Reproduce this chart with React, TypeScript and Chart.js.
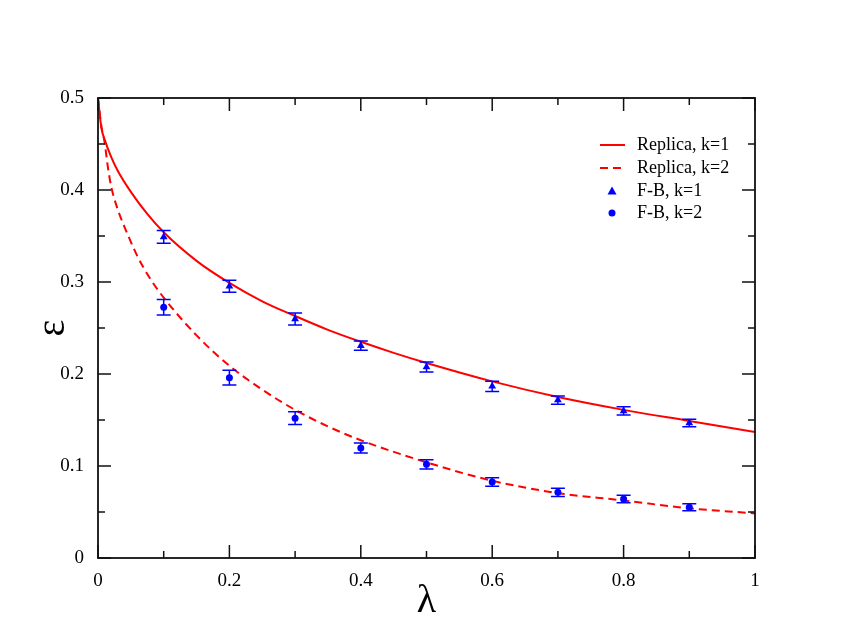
import React, { useEffect, useRef } from 'react';
import { Chart, registerables } from 'chart.js';

Chart.register(...registerables);

// Replica curves
const replicaK1Lambda = [0, 0.005, 0.01, 0.02, 0.03, 0.05, 0.075, 0.1, 0.15, 0.2, 0.25, 0.3, 0.35, 0.4, 0.45, 0.5, 0.6, 0.7, 0.8, 0.9, 1.0];
const replicaK1 = [0.5, 0.468, 0.455, 0.436, 0.421, 0.398, 0.374, 0.354, 0.323, 0.299, 0.279, 0.263, 0.248, 0.235, 0.223, 0.212, 0.192, 0.175, 0.161, 0.149, 0.137];

const replicaK2Lambda = [0, 0.005, 0.01, 0.015, 0.02, 0.03, 0.045, 0.06, 0.08, 0.1, 0.15, 0.2, 0.25, 0.3, 0.35, 0.4, 0.5, 0.6, 0.7, 0.8, 0.9, 1.0];
const replicaK2 = [0.5, 0.47, 0.452, 0.425, 0.404, 0.379, 0.352, 0.328, 0.303, 0.283, 0.242, 0.209, 0.183, 0.161, 0.143, 0.128, 0.104, 0.084, 0.0705, 0.0625, 0.054, 0.0485];

// F-B data points with error bars
const fbLambda = [0.1, 0.2, 0.3, 0.4, 0.5, 0.6, 0.7, 0.8, 0.9];
const fbK1 = [0.349, 0.2953, 0.2598, 0.2308, 0.2076, 0.1866, 0.1717, 0.1598, 0.1467];
const fbK1Err = [0.007, 0.0065, 0.0065, 0.005, 0.0055, 0.0055, 0.0045, 0.0045, 0.004];
const fbK2 = [0.2725, 0.196, 0.152, 0.1196, 0.1018, 0.0826, 0.0714, 0.0641, 0.0551];
const fbK2Err = [0.0085, 0.008, 0.007, 0.0055, 0.005, 0.0045, 0.0045, 0.004, 0.0038];

const xTicks = [0, 0.2, 0.4, 0.6, 0.8, 1];
const yTicks = [0, 0.1, 0.2, 0.3, 0.4, 0.5];
const legendLabels = ['Replica, k=1', 'Replica, k=2', 'F-B, k=1', 'F-B, k=2'];

const RED = '#ff0000';
const BLUE = '#0000ff';
const SERIF = '"Liberation Serif", "Times New Roman", serif';

const errors: Record<string, number[]> = { fb1: fbK1Err, fb2: fbK2Err };

const framePlugin = {
  id: 'frameTicks',
  afterDatasetsDraw(chart: any) {
    const { ctx, chartArea: a, scales } = chart;
    const xs = scales.x;
    const ys = scales.y;
    ctx.save();
    // error bars
    chart.data.datasets.forEach((ds: any) => {
      const errs = errors[ds.key];
      if (!errs) return;
      ctx.strokeStyle = BLUE;
      ctx.lineWidth = 1.5;
      ds.data.forEach((p: any, i: number) => {
        const px = xs.getPixelForValue(p.x);
        const top = ys.getPixelForValue(p.y + errs[i]);
        const bot = ys.getPixelForValue(p.y - errs[i]);
        ctx.beginPath();
        ctx.moveTo(px, top);
        ctx.lineTo(px, bot);
        ctx.moveTo(px - 7, top);
        ctx.lineTo(px + 7, top);
        ctx.moveTo(px - 7, bot);
        ctx.lineTo(px + 7, bot);
        ctx.stroke();
      });
    });
    // frame
    ctx.strokeStyle = '#111';
    ctx.lineWidth = 1.8;
    ctx.strokeRect(a.left, a.top, a.right - a.left, a.bottom - a.top);
    ctx.lineWidth = 1.5;
    // x ticks (major 0.2, minor 0.1)
    for (let i = 0; i <= 10; i++) {
      const v = i / 10;
      const len = i % 2 === 0 ? 13 : 7;
      const px = xs.getPixelForValue(v);
      ctx.beginPath();
      ctx.moveTo(px, a.bottom);
      ctx.lineTo(px, a.bottom - len);
      ctx.moveTo(px, a.top);
      ctx.lineTo(px, a.top + len);
      ctx.stroke();
    }
    // y ticks (major 0.1, minor 0.05)
    for (let i = 0; i <= 10; i++) {
      const v = i * 0.05;
      const len = i % 2 === 0 ? 13 : 7;
      const py = ys.getPixelForValue(v);
      ctx.beginPath();
      ctx.moveTo(a.left, py);
      ctx.lineTo(a.left + len, py);
      ctx.moveTo(a.right, py);
      ctx.lineTo(a.right - len, py);
      ctx.stroke();
    }
    // legend
    const lx = 600;
    const tx = 637;
    const rows = [145, 168, 191, 213];
    ctx.font = `18px ${SERIF}`;
    ctx.fillStyle = '#000';
    ctx.textBaseline = 'middle';
    ctx.textAlign = 'left';
    legendLabels.forEach((lab, i) => ctx.fillText(lab, tx, rows[i]));
    ctx.strokeStyle = RED;
    ctx.lineWidth = 2;
    ctx.beginPath();
    ctx.moveTo(lx, rows[0]);
    ctx.lineTo(lx + 25, rows[0]);
    ctx.stroke();
    ctx.setLineDash([8, 5]);
    ctx.beginPath();
    ctx.moveTo(lx, rows[1]);
    ctx.lineTo(lx + 25, rows[1]);
    ctx.stroke();
    ctx.setLineDash([]);
    ctx.fillStyle = BLUE;
    ctx.beginPath();
    ctx.moveTo(612, rows[2] - 4.5);
    ctx.lineTo(616.5, rows[2] + 3.5);
    ctx.lineTo(607.5, rows[2] + 3.5);
    ctx.closePath();
    ctx.fill();
    ctx.beginPath();
    ctx.arc(612, rows[3], 3.5, 0, Math.PI * 2);
    ctx.fill();
    ctx.restore();
  },
};

export default function App() {
  const ref = useRef<HTMLCanvasElement | null>(null);
  useEffect(() => {
    if (!ref.current) return;
    const chart = new Chart(ref.current, {
      type: 'scatter',
      data: {
        datasets: [
          {
            key: 'fb1',
            label: legendLabels[2],
            data: fbLambda.map((x, i) => ({ x, y: fbK1[i] })),
            pointStyle: 'triangle',
            pointRadius: 4.5,
            backgroundColor: BLUE,
            borderColor: BLUE,
            borderWidth: 0,
            showLine: false,
            order: 1,
          },
          {
            key: 'fb2',
            label: legendLabels[3],
            data: fbLambda.map((x, i) => ({ x, y: fbK2[i] })),
            pointStyle: 'circle',
            pointRadius: 3.5,
            backgroundColor: BLUE,
            borderColor: BLUE,
            borderWidth: 0,
            showLine: false,
            order: 1,
          },
          {
            label: legendLabels[0],
            data: replicaK1Lambda.map((x, i) => ({ x, y: replicaK1[i] })),
            showLine: true,
            borderColor: RED,
            borderWidth: 2,
            pointRadius: 0,
            cubicInterpolationMode: 'monotone',
            order: 2,
          },
          {
            label: legendLabels[1],
            data: replicaK2Lambda.map((x, i) => ({ x, y: replicaK2[i] })),
            showLine: true,
            borderColor: RED,
            borderWidth: 2,
            borderDash: [8, 5],
            pointRadius: 0,
            cubicInterpolationMode: 'monotone',
            order: 2,
          },
        ] as any,
      },
      options: {
        responsive: false,
        animation: false,
        layout: { padding: { top: 98, right: 95, left: 0, bottom: 0 } },
        plugins: { legend: { display: false }, tooltip: { enabled: false } },
        scales: {
          x: {
            type: 'linear',
            min: 0,
            max: 1,
            grid: { display: false },
            border: { display: false },
            afterBuildTicks: (s: any) => { s.ticks = xTicks.map((v) => ({ value: v })); },
            afterFit: (s: any) => { s.height = 76; },
            ticks: {
              padding: 4,
              color: '#000',
              font: { family: SERIF, size: 19 },
              maxRotation: 0,
              callback: (v: any) => String(Math.round(v * 10) / 10),
            },
            title: {
              display: true,
              text: 'λ',
              color: '#000',
              font: { family: SERIF, size: 40 },
              padding: { top: 0, bottom: 9 },
            },
          },
          y: {
            type: 'linear',
            min: 0,
            max: 0.5,
            grid: { display: false },
            border: { display: false },
            afterBuildTicks: (s: any) => { s.ticks = yTicks.map((v) => ({ value: v })); },
            afterFit: (s: any) => { s.width = 98; },
            ticks: {
              padding: 6,
              color: '#000',
              font: { family: SERIF, size: 19 },
              callback: (v: any) => String(Math.round(v * 10) / 10),
            },
            title: {
              display: true,
              text: 'ε',
              color: '#000',
              font: { family: SERIF, size: 40 },
              padding: { top: 29, bottom: 0 },
            },
          },
        },
      },
      plugins: [framePlugin],
    });
    return () => chart.destroy();
  }, []);
  return (
    <div style={{ position: 'absolute', left: 0, top: 0, width: 850, height: 634, background: '#fff' }}>
      <canvas ref={ref} width={850} height={634} style={{ display: 'block' }} />
    </div>
  );
}
